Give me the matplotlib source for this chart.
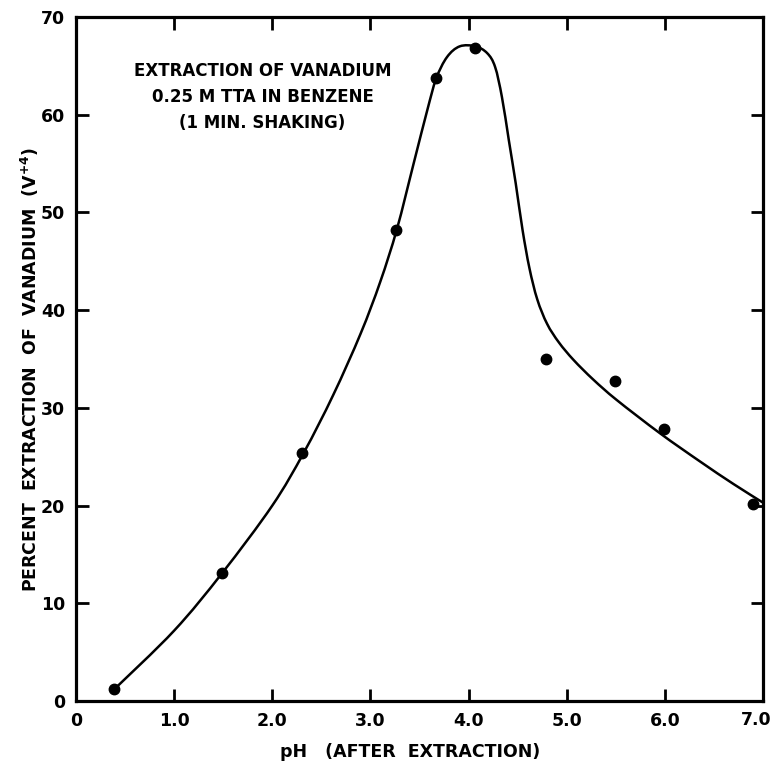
import matplotlib
matplotlib.use('Agg')
import matplotlib.pyplot as plt
from matplotlib.path import Path
from matplotlib.patches import PathPatch
import numpy as np

# measured points (pH after extraction, % extraction of V+4)
ph_pts = [0.39, 1.49, 2.30, 3.26, 3.67, 4.07, 4.79, 5.49, 5.99, 6.90]
pct_pts = [1.2, 13.1, 25.4, 48.2, 63.8, 66.8, 35.0, 32.7, 27.8, 20.2]

# hand-drawn smooth curve
curve_ph = [0.39, 1.0, 1.49, 2.0, 2.32, 2.62, 2.90, 3.10, 3.27, 3.44, 3.58, 3.67,
            3.78, 3.91, 4.07, 4.19, 4.27, 4.34, 4.41, 4.48, 4.55, 4.62, 4.70,
            4.80, 4.92, 5.07, 5.27, 5.51, 5.95, 6.36, 6.70, 7.0]
curve_pct = [1.2, 7.2, 13.1, 20.0, 25.4, 31.3, 37.6, 42.9, 48.3, 55.0, 60.5, 63.7,
             65.9, 67.0, 67.0, 66.3, 64.9, 61.8, 57.4, 53.0, 48.2, 44.3, 41.1,
             38.6, 36.7, 34.9, 32.9, 30.8, 27.4, 24.5, 22.2, 20.3]

xticks = [0, 1, 2, 3, 4, 5, 6, 7]
xtick_labels = ['0', '1.0', '2.0', '3.0', '4.0', '5.0', '6.0', '7.0']
yticks = [0, 10, 20, 30, 40, 50, 60, 70]

title_lines = ['EXTRACTION OF VANADIUM', '0.25 M TTA IN BENZENE', '(1 MIN. SHAKING)']
title_y = [64.5, 61.8, 59.2]

plt.rcParams['font.family'] = ['DejaVu Sans']
plt.rcParams['font.weight'] = 'bold'
plt.rcParams['mathtext.default'] = 'bf'

fig = plt.figure(figsize=(7.74, 7.64), dpi=100)
ax = fig.add_axes([0.0982, 0.0825, 0.8876, 0.8952])


def smooth_path(xs, ys):
    # Catmull-Rom through the read points, drawn as cubic bezier segments
    pts = np.column_stack([xs, ys])
    verts = [pts[0]]
    codes = [Path.MOVETO]
    for i in range(len(pts) - 1):
        p0 = pts[i - 1] if i > 0 else pts[i]
        p1 = pts[i]
        p2 = pts[i + 1]
        p3 = pts[i + 2] if i + 2 < len(pts) else pts[i + 1]
        c1 = p1 + (p2 - p0) / 6
        c2 = p2 - (p3 - p1) / 6
        verts += [c1, c2, p2]
        codes += [Path.CURVE4] * 3
    return Path(verts, codes)


ax.add_patch(PathPatch(smooth_path(curve_ph, curve_pct), fill=False,
                       lw=1.8, color='black', clip_on=False))
ax.plot(ph_pts, pct_pts, 'o', color='black', ms=7.5, clip_on=False, zorder=5)

ax.set_xlim(0, 7)
ax.set_ylim(0, 70)
ax.set_xticks(xticks, xtick_labels[:-1] + [''])
ax.set_yticks(yticks)
ax.tick_params(direction='in', length=9, width=2, labelsize=12.5,
               top=True, right=True, pad=8)
for lab in ax.get_xticklabels() + ax.get_yticklabels():
    lab.set_fontweight('bold')
# last x label sits a little left of the frame edge so it stays on the page
ax.annotate(xtick_labels[-1], xy=(xticks[-1], 0), xytext=(-5, -14),
            textcoords='offset points', ha='center', va='center',
            fontsize=12.5, fontweight='bold', annotation_clip=False)
for sp in ax.spines.values():
    sp.set_linewidth(2.3)

for line, yy in zip(title_lines, title_y):
    ax.text(1.9, yy, line, ha='center', va='center',
            fontsize=12, fontweight='bold')

ax.set_xlabel('pH   (AFTER  EXTRACTION)', fontsize=12.5, fontweight='bold')
ax.xaxis.set_label_coords(0.486, -0.062)
ax.set_ylabel(r'PERCENT  EXTRACTION  OF  VANADIUM  (V$^{+4}$)', fontsize=12.5,
              fontweight='bold')
ax.yaxis.set_label_coords(-0.051, 0.484)

fig.savefig('out.png', dpi=100)
